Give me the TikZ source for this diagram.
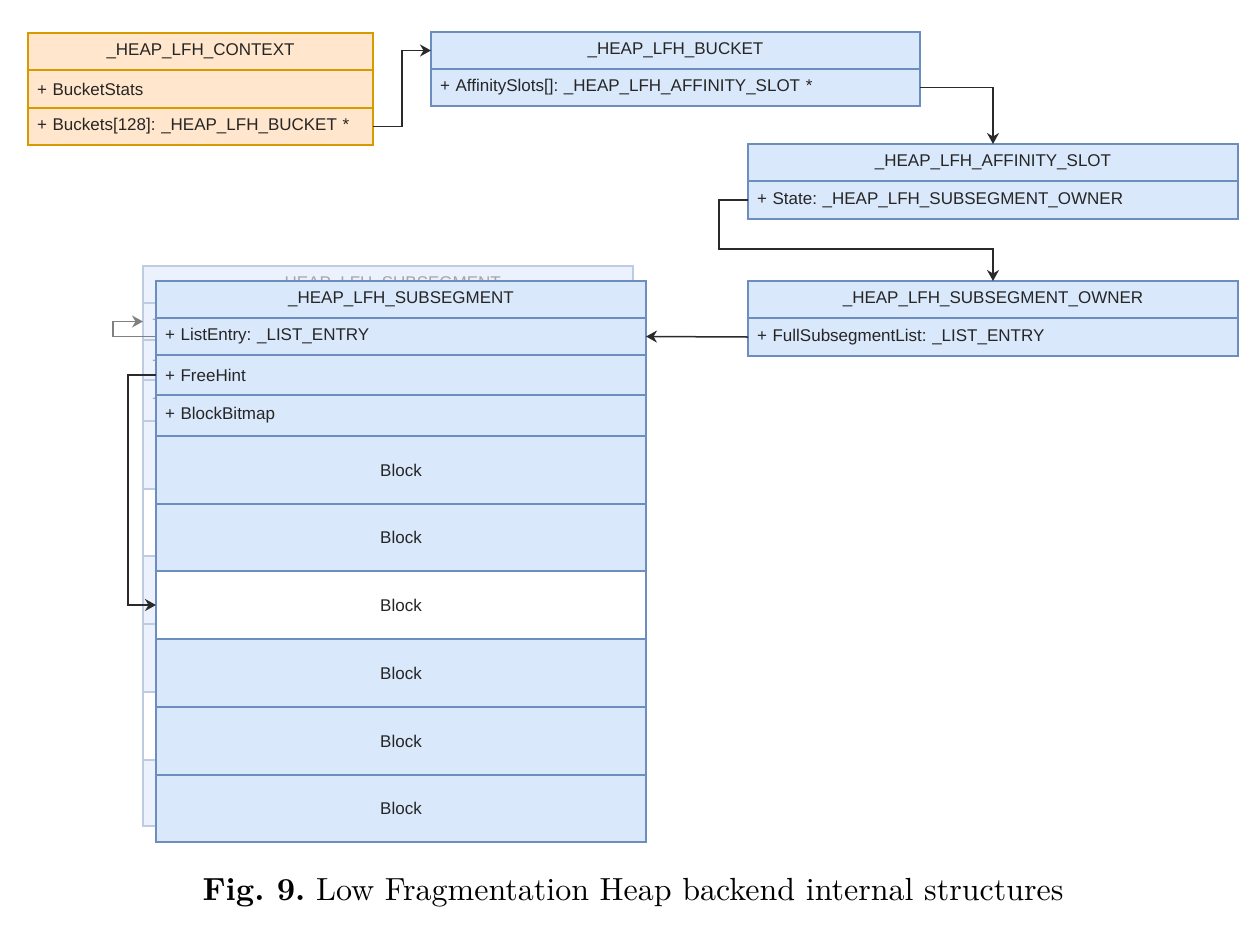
\documentclass[tikz,border=0pt]{standalone}
\usepackage{fontspec}
\newfontfamily\diagfont{Liberation Sans}
\newfontfamily\capfont{lmroman10-regular.otf}[BoldFont=lmroman10-bold.otf]
\usetikzlibrary{arrows.meta,calc}
\frenchspacing
\definecolor{bfill}{HTML}{DAE8FC}
\definecolor{bstroke}{HTML}{6C8EBF}
\definecolor{ofill}{HTML}{FFE6CC}
\definecolor{ostroke}{HTML}{D79B00}
\definecolor{conncol}{HTML}{2A2A2A}
\tikzset{
  box/.style={draw=bstroke, fill=bfill, line width=1.2pt, outer sep=0pt, anchor=north west,
    font=\diagfont\fontsize{17}{20}\selectfont, text=black!85},
  obox/.style={box, draw=ostroke, fill=ofill},
  fbox/.style={box, draw=bstroke!45!white, fill=bfill!55!white, text=black!35},
  title/.style={minimum width=#1, minimum height=37pt, inner sep=0pt, align=center},
  row/.style={text width=#1-18pt, inner xsep=9pt, inner ysep=0pt, align=left},
  conn/.style={draw=conncol, line width=1.5pt, -{Stealth[length=11pt,width=12pt,inset=3.5pt]}},
  fconn/.style={draw=black!50, line width=1.5pt, -{Stealth[length=11pt,width=12pt,inset=3.5pt]}},
}
\begin{document}
\begin{tikzpicture}[x=1pt,y=-1pt]
\useasboundingbox (0,0) rectangle (1258,951);
% _HEAP_LFH_CONTEXT
\node[obox, title=345pt] (ctxT) at (28,33) {\_HEAP\_LFH\_CONTEXT};
\node[obox, row=345pt, minimum height=38pt] (ctxS) at (28,70) {+ BucketStats};
\node[obox, row=345pt, minimum height=37pt] (ctxB) at (28,108) {+ Buckets[128]: \_HEAP\_LFH\_BUCKET *};
% _HEAP_LFH_BUCKET
\node[box, title=489pt] (bkT) at (431,32) {\_HEAP\_LFH\_BUCKET};
\node[box, row=489pt, minimum height=37pt] (bkR) at (431,69) {+ AffinitySlots[]: \_HEAP\_LFH\_AFFINITY\_SLOT *};
% _HEAP_LFH_AFFINITY_SLOT
\node[box, title=490pt] (afT) at (748,144) {\_HEAP\_LFH\_AFFINITY\_SLOT};
\node[box, row=490pt, minimum height=38pt] (afR) at (748,181) {+ State: \_HEAP\_LFH\_SUBSEGMENT\_OWNER};
% _HEAP_LFH_SUBSEGMENT_OWNER
\node[box, title=490pt] (owT) at (748,281) {\_HEAP\_LFH\_SUBSEGMENT\_OWNER};
\node[box, row=490pt, minimum height=38pt] (owR) at (748,318) {+ FullSubsegmentList: \_LIST\_ENTRY};
% back (faded) _HEAP_LFH_SUBSEGMENT
\node[fbox, title=490pt] (bT) at (143,266) {\_HEAP\_LFH\_SUBSEGMENT};
\node[fbox, row=490pt, minimum height=37pt] (bLE) at (143,303) {+ ListEntry: \_LIST\_ENTRY};
\node[fbox, row=490pt, minimum height=40pt] (bFH) at (143,340) {+ FreeHint};
\node[fbox, row=490pt, minimum height=41pt] (bBM) at (143,380) {+ BlockBitmap};
\node[fbox, title=490pt, minimum height=68pt] (bB1) at (143,421) {Block};
\node[fbox, title=490pt, minimum height=67pt, fill=white] (bB2) at (143,489) {Block};
\node[fbox, title=490pt, minimum height=68pt] (bB3) at (143,556) {Block};
\node[fbox, title=490pt, minimum height=68pt] (bB4) at (143,624) {Block};
\node[fbox, title=490pt, minimum height=68pt, fill=white] (bB5) at (143,692) {Block};
\node[fbox, title=490pt, minimum height=66pt] (bB6) at (143,760) {Block};
% front _HEAP_LFH_SUBSEGMENT
\coordinate (k4) at (113,0);
\draw[fconn] (156,336.5) -- (k4 |- 0,336.5) |- (bLE.west);
\node[box, title=490pt] (fT) at (156,281) {\_HEAP\_LFH\_SUBSEGMENT};
\node[box, row=490pt, minimum height=37pt] (fLE) at (156,318) {+ ListEntry: \_LIST\_ENTRY};
\node[box, row=490pt, minimum height=40pt] (fFH) at (156,355) {+ FreeHint};
\node[box, row=490pt, minimum height=41pt] (fBM) at (156,395) {+ BlockBitmap};
\node[box, title=490pt, minimum height=68pt] (fB1) at (156,436) {Block};
\node[box, title=490pt, minimum height=67pt] (fB2) at (156,504) {Block};
\node[box, title=490pt, minimum height=68pt, fill=white] (fB3) at (156,571) {Block};
\node[box, title=490pt, minimum height=68pt] (fB4) at (156,639) {Block};
\node[box, title=490pt, minimum height=68pt] (fB5) at (156,707) {Block};
\node[box, title=490pt, minimum height=67pt] (fB6) at (156,775) {Block};
% connectors
\coordinate (k1) at (402,0);
\coordinate (k2) at (719,249);
\coordinate (k3) at (128,0);
\draw[conn] (ctxB.east) -- (ctxB.east -| k1) |- (bkT.west);
\draw[conn] (bkR.east) -| (afT.north);
\draw[conn] (afR.west) -| (k2) -| (owT.north);
\draw[conn] (owR.west) -- (fLE.east);
\draw[conn] (fFH.west) -- (fFH.west -| k3) |- (fB3.west);
% caption
\node[font=\capfont\fontsize{32}{38}\selectfont] (cap) at (633,893) {\textbf{Fig.\ 9.} Low Fragmentation Heap backend internal structures};
\end{tikzpicture}
\end{document}
